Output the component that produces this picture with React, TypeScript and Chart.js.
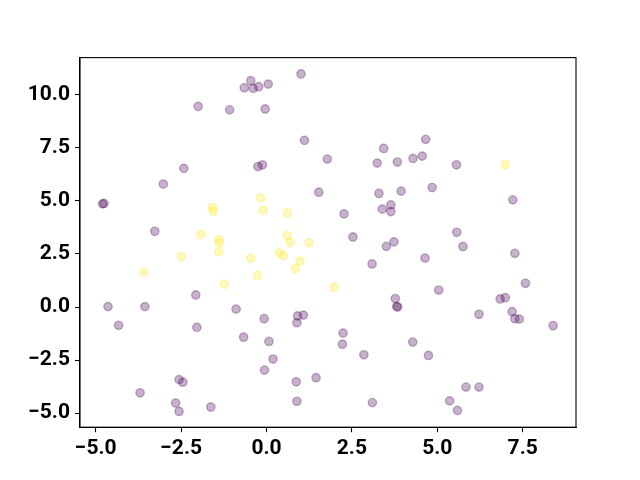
import React, { useEffect, useRef } from "react";
import { Chart, registerables } from "chart.js";

Chart.register(...registerables);

// Class 0 (purple) points
const purpleX = [
  -0.65, -2.0, -1.08, -2.42, -3.02, -0.46, -0.39, -0.23, 0.05, 1.01,
  -0.04, 1.11, 1.78, -0.25, -0.12, 3.43, 3.24, 3.83, 4.66, 4.29,
  4.56, 5.56, 4.85, -4.8, -4.76, -3.27, -2.07, -4.64, -3.56, -0.89,
  1.53, 2.27, 3.29, 3.94, 3.39, 3.64, 3.64, 2.53, 3.51, 3.73,
  3.09, 3.77, 3.81, 3.84, 7.21, 5.57, 5.75, 4.64, 7.27, 7.58,
  5.04, 6.84, 6.99, 7.19, -4.33, -2.04, -0.67, -2.56, -2.45, -3.7,
  -2.66, -2.56, -1.63, -0.07, 0.91, 1.08, 0.89, 0.07, 0.19, -0.06,
  2.24, 2.22, 2.85, 0.87, 1.45, 0.89, 3.1, 6.22, 7.27, 7.4,
  8.39, 4.28, 4.74, 5.84, 6.22, 5.36, 5.59,
];
const purpleY = [
  10.33, 9.45, 9.29, 6.53, 5.79, 10.66, 10.3, 10.38, 10.5, 10.98,
  9.33, 7.85, 6.97, 6.62, 6.7, 7.47, 6.78, 6.83, 7.9, 7.0,
  7.11, 6.7, 5.63, 4.86, 4.88, 3.57, 0.57, 0.02, 0.02, -0.1,
  5.41, 4.39, 5.35, 5.46, 4.61, 4.81, 4.5, 3.3, 2.86, 3.07,
  2.03, 0.4, 0.03, 0.0, 5.05, 3.52, 2.85, 2.31, 2.53, 1.12,
  0.8, 0.38, 0.44, -0.22, -0.86, -0.96, -1.42, -3.42, -3.54, -4.04,
  -4.52, -4.92, -4.71, -0.55, -0.42, -0.38, -0.74, -1.62, -2.45, -2.97,
  -1.23, -1.75, -2.25, -3.52, -3.33, -4.44, -4.5, -0.34, -0.55, -0.57,
  -0.88, -1.65, -2.28, -3.77, -3.77, -4.42, -4.87,
];

// Class 1 (yellow) points
const yellowX = [
  -1.59, -1.56, -1.92, -1.4, -1.38, -1.4, -2.49, -0.46, -3.59, -1.24,
  -0.17, -0.1, 0.61, 0.61, 0.69, 1.24, 0.37, 0.49, 0.98, 0.84,
  -0.27, 1.98, 6.99,
];
const yellowY = [
  4.69, 4.51, 3.42, 3.18, 3.02, 2.61, 2.39, 2.31, 1.64, 1.07,
  5.14, 4.56, 4.43, 3.37, 3.04, 3.02, 2.55, 2.42, 2.16, 1.81,
  1.5, 0.94, 6.7,
];

const xTicks = [-5, -2.5, 0, 2.5, 5, 7.5];
const yTicks = [-5, -2.5, 0, 2.5, 5, 7.5, 10];

const fmt = (v: number) => v.toFixed(1).replace("-", "\u2212");

const framePlugin = {
  id: "frame",
  afterDraw(chart: any) {
    const { ctx, chartArea } = chart;
    ctx.save();
    ctx.strokeStyle = "#000";
    ctx.lineWidth = 1.1;
    ctx.strokeRect(
      chartArea.left,
      chartArea.top,
      chartArea.right - chartArea.left,
      chartArea.bottom - chartArea.top
    );
    ctx.restore();
  },
};

export default function App() {
  const ref = useRef<HTMLCanvasElement | null>(null);

  useEffect(() => {
    if (!ref.current) return;
    const font = { family: "Roboto", size: 21, weight: "bold" as const };
    const chart = new Chart(ref.current, {
      type: "scatter",
      data: {
        datasets: [
          {
            data: purpleX.map((x, i) => ({ x, y: purpleY[i] })),
            backgroundColor: "rgba(68,1,84,0.3)",
            borderColor: "rgba(68,1,84,0.3)",
            borderWidth: 1.4,
            pointRadius: 4.17,
          },
          {
            data: yellowX.map((x, i) => ({ x, y: yellowY[i] })),
            backgroundColor: "rgba(253,231,37,0.3)",
            borderColor: "rgba(253,231,37,0.3)",
            borderWidth: 1.4,
            pointRadius: 4.17,
          },
        ],
      },
      options: {
        responsive: false,
        maintainAspectRatio: false,
        animation: false,
        events: [],
        layout: { padding: { top: 57.6, right: 64, bottom: 0, left: 0 } },
        plugins: { legend: { display: false }, tooltip: { enabled: false } },
        scales: {
          x: {
            type: "linear",
            min: -5.46,
            max: 9.06,
            afterFit: (s: any) => {
              s.height = 52.8;
            },
            afterBuildTicks: (s: any) => {
              s.ticks = xTicks.map((v) => ({ value: v }));
            },
            grid: {
              drawOnChartArea: false,
              drawTicks: true,
              tickLength: 5,
              tickWidth: 1.1,
              tickColor: "#000",
            },
            border: { display: true, color: "#000", width: 1.1 },
            ticks: {
              color: "#000",
              font,
              padding: 4,
              maxRotation: 0,
              autoSkip: false,
              callback: (v: any) => fmt(Number(v)),
            },
          },
          y: {
            type: "linear",
            min: -5.66,
            max: 11.75,
            afterFit: (s: any) => {
              s.width = 80;
            },
            afterBuildTicks: (s: any) => {
              s.ticks = yTicks.map((v) => ({ value: v }));
            },
            grid: {
              drawOnChartArea: false,
              drawTicks: true,
              tickLength: 5,
              tickWidth: 1.1,
              tickColor: "#000",
            },
            border: { display: true, color: "#000", width: 1.1 },
            ticks: {
              color: "#000",
              font,
              padding: 5,
              autoSkip: false,
              callback: (v: any) => fmt(Number(v)),
            },
          },
        },
      },
      plugins: [framePlugin],
    });
    return () => chart.destroy();
  }, []);

  return (
    <div style={{ position: "fixed", left: 0, top: 0, width: 640, height: 480, background: "#fff" }}>
      <canvas ref={ref} width={640} height={480} style={{ width: 640, height: 480, display: "block" }} />
    </div>
  );
}
